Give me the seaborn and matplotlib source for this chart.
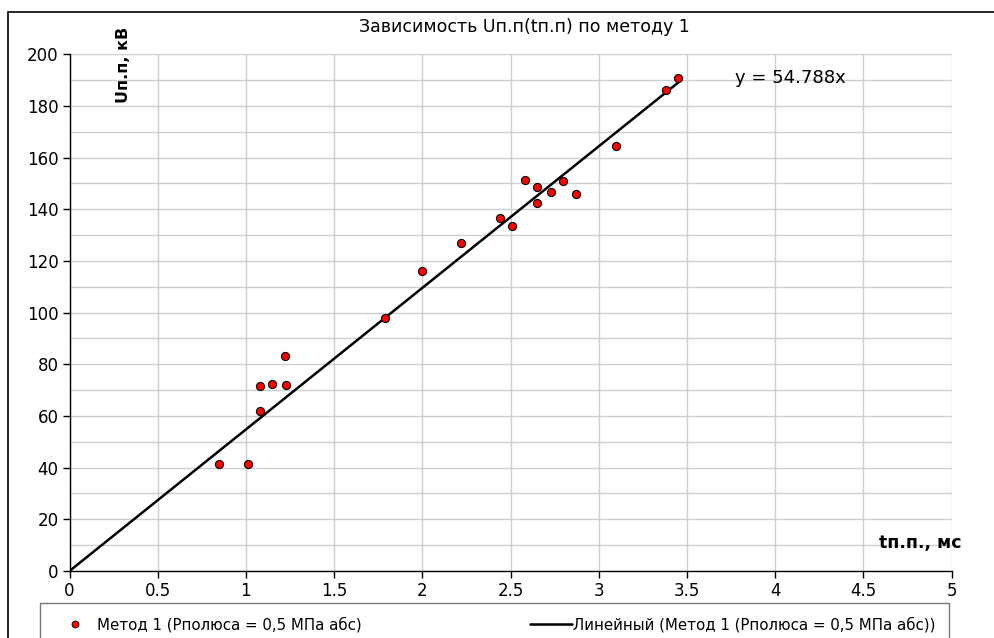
import matplotlib
matplotlib.use("Agg")
import matplotlib.pyplot as plt
from matplotlib.patches import Rectangle
from matplotlib.lines import Line2D
import seaborn as sns
import numpy as np
import pandas as pd

# measured points (t, ms ; U, kV)
t_pp = [0.85, 1.01, 1.08, 1.08, 1.15, 1.23, 1.22, 1.79, 2.00, 2.22, 2.44,
        2.51, 2.58, 2.65, 2.65, 2.73, 2.80, 2.87, 3.10, 3.38, 3.45]
u_pp = [41.4, 41.4, 62.1, 71.5, 72.4, 71.9, 83.2, 97.8, 116.0, 127.1, 136.5,
        133.4, 151.4, 148.7, 142.3, 146.8, 150.9, 146.0, 164.4, 186.0, 191.0]
slope = 54.788
fit_x = [0, max(t_pp)]
x_ticklabels = ["0", "0.5", "1", "1.5", "2", "2.5", "3", "3.5", "4", "4.5", "5"]

W, H = 994, 638

sns.set_style("white")
# wide font, the original text is stretched horizontally
plt.rcParams['font.family'] = ['DejaVu Sans']
plt.rcParams['text.color'] = 'black'
plt.rcParams['xtick.color'] = 'black'
plt.rcParams['ytick.color'] = 'black'

fig = plt.figure(figsize=(W / 100, H / 100), dpi=100)
# outer chart frame
fig.patches.append(Rectangle((8 / W, -0.1), 1.2, 1.1 - 12 / H, transform=fig.transFigure,
                             fill=False, edgecolor='black', linewidth=1.2))

left, right, top, bottom = 69.5, 951.5, 54.3, 571
ax = fig.add_axes([left / W, 1 - bottom / H, (right - left) / W, (bottom - top) / H])

df = pd.DataFrame({"t": t_pp, "U": u_pp})
fit = pd.DataFrame({"t": fit_x, "U": [slope * v for v in fit_x]})

sns.lineplot(data=fit, x="t", y="U", ax=ax, color="black", linewidth=1.8, zorder=3)
sns.scatterplot(data=df, x="t", y="U", ax=ax, color="#ff0000", edgecolor="black",
                linewidth=0.8, s=34, zorder=4)

ax.set_xlim(0, 5)
ax.set_ylim(0, 200)
ax.set_xticks(np.arange(0, 5.01, 0.5))
ax.set_xticklabels(x_ticklabels)
ax.set_yticks(np.arange(0, 201, 20))
ax.set_yticks(np.arange(10, 200, 20), minor=True)
ax.grid(True, which="both", color="#cfcfcf", linewidth=1)
ax.set_axisbelow(True)
for s in ["top", "right"]:
    ax.spines[s].set_visible(False)
for s in ["left", "bottom"]:
    ax.spines[s].set_color("black")
    ax.spines[s].set_linewidth(1)
ax.tick_params(axis="both", which="major", direction="out", length=5, width=1,
               color="black", labelcolor="black", labelsize=12, pad=3, bottom=True, left=True)
ax.tick_params(axis="y", which="minor", length=0)
ax.set_xlabel("")
ax.set_ylabel("")

fig.text(524 / W, 1 - 27 / H, "Зависимость Uп.п(tп.п) по методу 1", ha="center",
         va="center", fontsize=12.5, color="black")
fig.text(123 / W, 1 - 65 / H, "Uп.п, кВ", rotation=90, ha="center", va="center",
         fontsize=11.5, fontweight="bold", color="black")
fig.text(920 / W, 1 - 543 / H, "tп.п., мс", ha="center", va="center",
         fontsize=12.5, fontweight="bold", color="black")
fig.text(790 / W, 1 - 78 / H, f"y = {slope}x", ha="center", va="center", fontsize=13,
         color="black")

handles = [Line2D([], [], linestyle="none", marker="o", markersize=5,
                  markerfacecolor="#ff0000", markeredgecolor="black", markeredgewidth=0.6),
           Line2D([], [], color="black", linewidth=1.8)]
labels = ["Метод 1 (Рполюса = 0,5 МПа абс)", "Линейный (Метод 1 (Рполюса = 0,5 МПа абс))"]
leg = fig.legend(handles, labels, loc="upper left",
                 bbox_to_anchor=(40 / W, 1 - 603 / H, 909 / W, 0), mode="expand",
                 ncol=2, frameon=True, fancybox=False, fontsize=10.8,
                 handlelength=2.8, handletextpad=0.1, borderpad=0.9, borderaxespad=0)
leg.get_frame().set_edgecolor("#555555")
leg.get_frame().set_linewidth(1)
for txt in leg.get_texts():
    txt.set_color("black")

fig.savefig("out.png", dpi=100)
